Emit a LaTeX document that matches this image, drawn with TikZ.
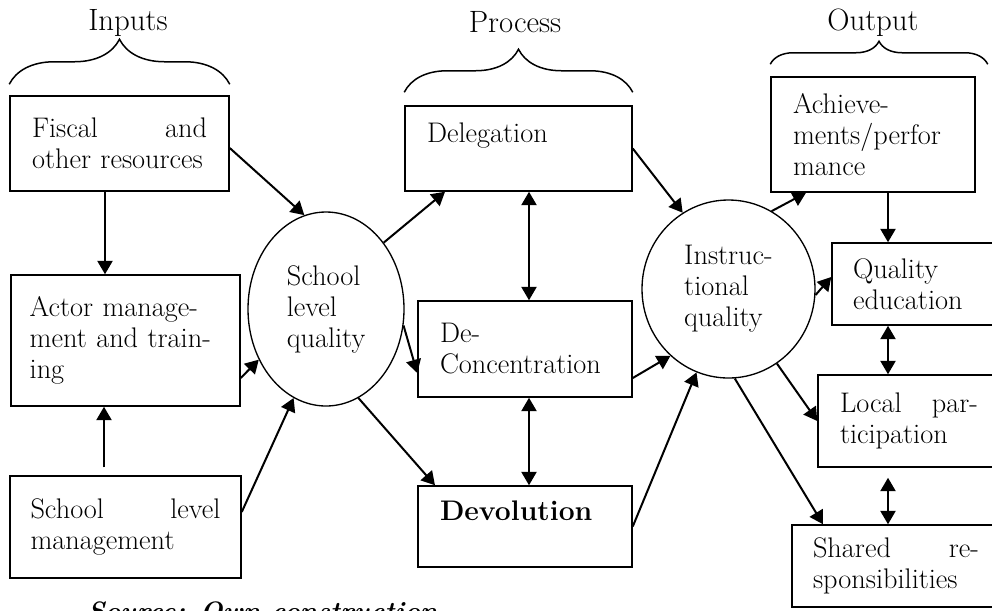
\documentclass[tikz,border=0pt]{standalone}
\usepackage{tikz}
\usetikzlibrary{shapes,arrows.meta,decorations.pathreplacing}
\newcommand{\mainsize}{\fontsize{17}{18.6}\selectfont}
\tikzstyle{box} = [draw, rectangle, line width=0.9pt, inner xsep=2pt, align=left, font=\mainsize]
\tikzstyle{bubble} = [draw, ellipse, line width=0.8pt, inner sep=2pt, align=left, font=\mainsize]
\tikzstyle{flow} = [draw, line width=1.2pt]
\tikzstyle{curly} = [draw, line width=0.9pt, decorate]
\tikzstyle{title} = [anchor=base, font=\fontsize{18.5}{20}\selectfont]

\begin{document}
\begin{tikzpicture}[x=0.6pt, y=-0.6pt, >={Triangle[length=8pt,width=9pt]}]
		\useasboundingbox (0,0) rectangle (992,610);
		
		% inputs
		\node [box, minimum width=131.4pt, minimum height=57pt, text width=105pt] (fiscal) at (119.5,143.5) {Fiscal\hfill and\\other resources};
		\node [box, minimum width=137.4pt, minimum height=78.6pt, text width=115pt] (actor) at (125.5,340.5) {Actor manage-\\ment and train-\\ing};
		\node [box, minimum width=138.6pt, minimum height=61.2pt, text width=114pt, below of=actor, node distance=111.9pt] (slm) {School\hfill level\\management};
		
		% process
		\node [box, minimum width=136.2pt, minimum height=51pt, text width=109.8pt] (deleg) at (518.5,148.5) {Delegation\\~};
		\node [box, minimum width=128.4pt, minimum height=57.6pt, text width=102pt] (deconc) at (525,349) {De-\\Concentration};
		\node [box, minimum width=128.4pt, minimum height=48.6pt, text width=102pt, below of=deconc, node distance=106.5pt] (devol) {\textbf{Devolution}\\~};
		
		% output
		\node [box, minimum width=122.4pt, minimum height=69pt, text width=96pt] (achv) at (873,134.5) {Achieve-\\ments/perfor\\mance};
		\node [box, minimum width=100.8pt, minimum height=49.2pt, text width=75.6pt] (qed) at (916,284) {Quality\\education};
		\node [box, minimum width=109.2pt, minimum height=55.2pt, text width=82.8pt] (lp) at (909,421) {Local\hfill par-\\ticipation};
		\node [box, minimum width=124.8pt, minimum height=49.2pt, text width=99.6pt] (shr) at (896,566) {Shared\hfill re-\\sponsibilities};
		
		% qualities
		\node [bubble, minimum width=93.6pt, minimum height=116.4pt] (slq) at (326,309) {School\\level\\quality};
		\node [bubble, minimum width=103.8pt, minimum height=106.8pt] (iq) at (728.5,289) {Instruc-\\tional\\quality};
		
		% headings
		\node [title] (tin) at (128,30) {Inputs};
		\node [title] (tpr) at (515,32) {Process};
		\node [title] (tout) at (873,30) {Output};
		\draw [curly, decoration={brace, amplitude=27pt}] ([yshift=6.6pt]fiscal.north west) -- ([yshift=6.6pt]fiscal.north east);
		\draw [curly, decoration={brace, amplitude=25.8pt}] ([yshift=7.8pt]deleg.north west) -- ([yshift=7.8pt]deleg.north east);
		\draw [curly, decoration={brace, amplitude=13.8pt}] ([yshift=7.2pt]achv.north west) -- ([shift={(7.2pt,7.2pt)}]achv.north east);
		
		\draw [->, flow] ([yshift=-2.7pt]fiscal.east) -- (slq.103);
		\draw [->, flow] ([xshift=-8.7pt]fiscal.south) -- ([xshift=-8.7pt]fiscal.south |- actor.north);
		\draw [->, flow] ([shift={(-12.9pt,4.8pt)}]slm.north) -- ([xshift=-12.9pt]slm.north |- actor.south);
		\draw [->, flow] ([yshift=-22.5pt]actor.east) -- (slq.217);
		\draw [->, flow] ([yshift=9pt]slm.east) -- (slq.250);
		
		\draw [->, flow] (slq.49) -- ([xshift=-44.1pt]deleg.south);
		\draw [->, flow] (slq.-12) -- ([yshift=-14.4pt]deconc.west);
		\draw [->, flow] (slq.-70) -- ([xshift=-54pt]devol.north);
		\draw [<->, flow] ([xshift=2.4pt]deconc.north |- deleg.south) -- ([xshift=2.4pt]deconc.north);
		\draw [<->, flow] ([xshift=2.4pt]deconc.south) -- ([xshift=2.4pt]devol.north);
		
		\draw [->, flow] (deleg.east) -- (iq.121);
		\draw [->, flow] ([yshift=-17.4pt]deconc.east) -- (iq.229);
		\draw [->, flow] (devol.east) -- (iq.249);
		
		\draw [->, flow] (iq.61) -- ([xshift=-40.2pt]achv.south);
		\draw [->, flow] (iq.-4) -- ([yshift=4.2pt]qed.west);
		\draw [->, flow] (iq.-57) -- (lp.west);
		\draw [->, flow] (iq.-86) -- ([xshift=-43.8pt]shr.north);
		\draw [->, flow] ([xshift=9pt]achv.south) -- ([xshift=9pt]achv.south |- qed.north);
		\draw [<->, flow] ([xshift=-16.8pt]qed.south) -- ([xshift=-16.8pt]qed.south |- lp.north);
		\draw [<->, flow] ([shift={(-12.6pt,-6pt)}]lp.south) -- ([xshift=-12.6pt]lp.south |- shr.north);
		
		\node [anchor=base west, inner sep=0pt, font=\fontsize{16}{19}\selectfont\bfseries\itshape] (src) at (87,620) {Source: Own construction};
		
\end{tikzpicture}
\end{document}
